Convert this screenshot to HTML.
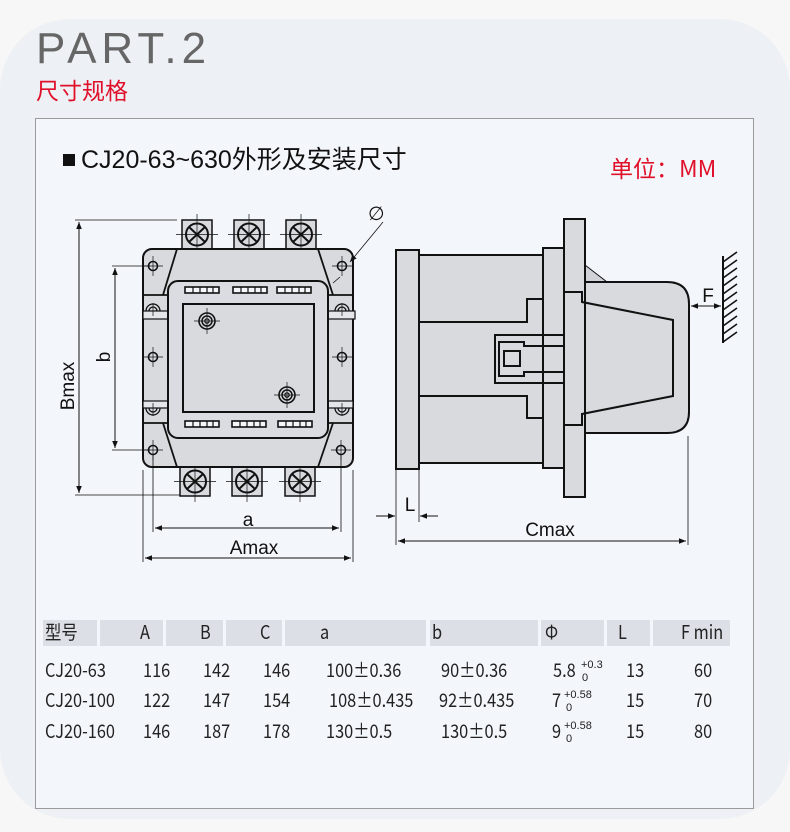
<!DOCTYPE html>
<html><head><meta charset="utf-8"><style>
html,body{margin:0;padding:0;}
body{width:790px;height:832px;background:#f7f7f7;position:relative;overflow:hidden;font-family:"Liberation Sans","Noto Sans CJK SC",sans-serif;}
.bg{position:absolute;left:0;top:19px;width:790px;height:800px;background:#edf0f5;border-radius:70px;}
.panel{position:absolute;left:35px;top:118px;width:717px;height:689px;background:#f3f6fb;border:1px solid #9a9a9a;}
.t{position:absolute;white-space:nowrap;}
.tb{font-family:"Noto Sans CJK SC","Liberation Sans",sans-serif;font-size:19px;line-height:22px;color:#222;position:absolute;white-space:nowrap;transform:scaleX(0.86);transform-origin:left top;}
.hc{position:absolute;top:620px;height:26px;background:#dcdfe5;}
</style></head><body>
<div class="bg"></div>
<div class="t" style="left:36px;top:24px;font-size:44px;color:#666;letter-spacing:5px;font-weight:300;">PART.2</div>
<div class="t" style="left:36px;top:72px;font-size:23px;color:#e0102a;font-family:'Noto Sans CJK SC',sans-serif;">尺寸规格</div>
<div class="panel"></div>
<div class="t" style="left:63px;top:140px;font-size:25px;color:#111;font-family:'Liberation Sans','Noto Sans CJK SC',sans-serif;"><span style="display:inline-block;width:12px;height:12px;background:#111;margin-right:6px;vertical-align:2px;"></span>CJ20-63~630外形及安装尺寸</div>
<div class="t" style="left:610px;top:150px;font-size:23px;color:#e0102a;font-family:'Noto Sans CJK SC',sans-serif;">单位：MM</div>

<svg style="position:absolute;left:0;top:0" width="790" height="832" viewBox="0 0 790 832">
<defs>
<marker id="ar" viewBox="0 0 10 10" refX="10" refY="5" markerWidth="9" markerHeight="7" orient="auto-start-reverse" markerUnits="userSpaceOnUse"><path d="M0,1 L10,5 L0,9 z" fill="#111"/></marker>
<g id="term"><rect x="0" y="0" width="30" height="29" fill="#d8dade" stroke="#111" stroke-width="1.5"/><circle cx="15" cy="14.5" r="11" fill="none" stroke="#111" stroke-width="2"/><path d="M7,7 L23,22 M23,7 L7,22" stroke="#111" stroke-width="2"/><path d="M-6,14.5 H36 M15,-6 V35" stroke="#111" stroke-width="0.7"/></g>
<g id="hole"><circle r="4.5" fill="none" stroke="#111" stroke-width="1.6"/><path d="M-10,0 H10 M0,-10 V10" stroke="#111" stroke-width="0.7"/></g>
<g id="scr"><circle r="8" fill="none" stroke="#111" stroke-width="1.6"/><circle r="5" fill="none" stroke="#111" stroke-width="1.5"/><circle r="2.2" fill="none" stroke="#111" stroke-width="1.2"/><path d="M-13,0 H13 M0,-13 V13" stroke="#111" stroke-width="0.7"/></g>
<g id="slot"><rect x="0" y="0" width="34" height="6" fill="#f3f6fb" stroke="#111" stroke-width="1.6"/><path d="M8,0V6 M15,0V6 M22,0V6 M28,0V6" stroke="#111" stroke-width="1.2"/></g>
</defs>
<use href="#term" x="182" y="220"/><use href="#term" x="234" y="220"/><use href="#term" x="286" y="220"/>
<use href="#term" x="180" y="467"/><use href="#term" x="232" y="467"/><use href="#term" x="285" y="467"/>
<rect x="143" y="249" width="210" height="218" rx="9" fill="#d8dade" stroke="#111" stroke-width="2"/>
<path d="M177,249 L163,295 M318,249 L333,295 M163,423 L177,467 M333,423 L318,467" stroke="#111" stroke-width="1.8" fill="none"/>
<path d="M143,295 H168 M143,423 H168 M328,295 H353 M328,423 H353" stroke="#111" stroke-width="1.8"/>
<rect x="143" y="311" width="25" height="8" fill="#e4e6ea" stroke="#111" stroke-width="1.2"/>
<rect x="328" y="311" width="27" height="8" fill="#e4e6ea" stroke="#111" stroke-width="1.2"/>
<rect x="143" y="401" width="25" height="7" fill="#e4e6ea" stroke="#111" stroke-width="1.2"/>
<rect x="328" y="401" width="25" height="7" fill="#e4e6ea" stroke="#111" stroke-width="1.2"/>
<path d="M146,311 A7,7 0 0 1 160,311 M149,311 A4,4 0 0 1 157,311 M146,408 A7,7 0 0 0 160,408 M149,408 A4,4 0 0 0 157,408" fill="none" stroke="#111" stroke-width="1.3"/>
<path d="M335,311 A7,7 0 0 1 349,311 M338,311 A4,4 0 0 1 346,311 M335,408 A7,7 0 0 0 349,408 M338,408 A4,4 0 0 0 346,408" fill="none" stroke="#111" stroke-width="1.3"/>
<path d="M153,303V316 M342,303V316 M153,403V416 M342,403V416" stroke="#111" stroke-width="0.7"/>
<rect x="168" y="281" width="160" height="157" rx="10" fill="#dadce1" stroke="#111" stroke-width="2"/>
<rect x="183" y="304" width="131" height="108" fill="#d8dade" stroke="#111" stroke-width="2"/>
<use href="#slot" x="185" y="287"/><use href="#slot" x="233" y="287"/><use href="#slot" x="277" y="287"/>
<use href="#slot" x="185" y="421"/><use href="#slot" x="232" y="421"/><use href="#slot" x="278" y="421"/>
<use href="#hole" x="153" y="266"/><use href="#hole" x="342" y="266"/><use href="#hole" x="153" y="357"/><use href="#hole" x="342" y="357"/><use href="#hole" x="153" y="450"/><use href="#hole" x="341" y="450"/>
<use href="#scr" x="207" y="321"/><use href="#scr" x="287" y="395"/>
<path d="M75,220 H177 M75,495 H180 M112,266 H150 M112,450 H150 M143,470 V562 M353,470 V562 M153,455 V532 M341,455 V532" stroke="#111" stroke-width="0.8"/>
<line x1="79" y1="222" x2="79" y2="493" stroke="#111" stroke-width="1" marker-start="url(#ar)" marker-end="url(#ar)"/>
<line x1="115" y1="268" x2="115" y2="448" stroke="#111" stroke-width="1" marker-start="url(#ar)" marker-end="url(#ar)"/>
<line x1="155" y1="528" x2="339" y2="528" stroke="#111" stroke-width="1" marker-start="url(#ar)" marker-end="url(#ar)"/>
<line x1="145" y1="558" x2="351" y2="558" stroke="#111" stroke-width="1" marker-start="url(#ar)" marker-end="url(#ar)"/>
<text x="74" y="386" font-size="19" font-family="Liberation Sans" fill="#111" text-anchor="middle" transform="rotate(-90 74 386)">Bmax</text>
<text x="110" y="357" font-size="19" font-family="Liberation Sans" fill="#111" text-anchor="middle" transform="rotate(-90 110 357)">b</text>
<text x="248" y="526" font-size="19" font-family="Liberation Sans" fill="#111" text-anchor="middle">a</text>
<text x="254" y="554" font-size="19" font-family="Liberation Sans" fill="#111" text-anchor="middle">Amax</text>
<text x="368" y="220" font-size="19" font-family="DejaVu Sans" fill="#111">∅</text>
<line x1="383" y1="222" x2="350" y2="262" stroke="#111" stroke-width="0.8" marker-end="url(#ar)"/>
<line x1="340" y1="277" x2="333" y2="283" stroke="#111" stroke-width="0.8"/>
<path d="M585,265 L607,282 L585,282 Z M585,433 L607,416 L585,416 Z" fill="#d0d2d7" stroke="#111" stroke-width="1"/>
<path d="M585,282 H667 Q689,282 689,304 V412 Q689,433 667,433 H585 Z" fill="#d8dade" stroke="#111" stroke-width="2"/>
<rect x="419" y="255" width="124" height="208" fill="#d8dade" stroke="#111" stroke-width="2"/>
<path d="M419,322 H527 V299 H543 M419,396 H527 V418 H543" fill="none" stroke="#111" stroke-width="2"/>
<rect x="396" y="250" width="23" height="219" fill="#d8dade" stroke="#111" stroke-width="2"/>
<rect x="543" y="248" width="21" height="220" fill="#d8dade" stroke="#111" stroke-width="2"/>
<rect x="564" y="219" width="21" height="278" fill="#d8dade" stroke="#111" stroke-width="2"/>
<path d="M564,292 H582 V302 L673,320 V396 L582,414 V425 H564" fill="none" stroke="#111" stroke-width="2"/>
<path d="M564,335 H495 V383 H564 M564,346 H524 V342 H499 V376 H524 V372 H564" fill="none" stroke="#111" stroke-width="2"/>
<rect x="504" y="351" width="16" height="15" fill="none" stroke="#111" stroke-width="2"/>
<line x1="723" y1="256" x2="723" y2="343" stroke="#111" stroke-width="2"/>
<path d="M723,262 l14,-10 M723,270 l14,-10 M723,278 l14,-10 M723,286 l14,-10 M723,294 l14,-10 M723,302 l14,-10 M723,310 l14,-10 M723,318 l14,-10 M723,326 l14,-10 M723,334 l14,-10 M723,342 l14,-10" stroke="#111" stroke-width="1.6"/>
<line x1="691" y1="306" x2="721" y2="306" stroke="#111" stroke-width="1" marker-start="url(#ar)" marker-end="url(#ar)"/>
<text x="708" y="302" font-size="19" font-family="Liberation Sans" fill="#111" text-anchor="middle">F</text>
<path d="M396,470 V545 M419,470 V522 M688,436 V545" stroke="#111" stroke-width="0.8"/>
<line x1="376" y1="516" x2="395" y2="516" stroke="#111" stroke-width="1" marker-end="url(#ar)"/>
<line x1="438" y1="516" x2="420" y2="516" stroke="#111" stroke-width="1" marker-end="url(#ar)"/>
<text x="410" y="511" font-size="19" font-family="Liberation Sans" fill="#111" text-anchor="middle">L</text>
<line x1="398" y1="541" x2="686" y2="541" stroke="#111" stroke-width="1" marker-start="url(#ar)" marker-end="url(#ar)"/>
<text x="550" y="536" font-size="19" font-family="Liberation Sans" fill="#111" text-anchor="middle">Cmax</text>
</svg>

<div class="hc" style="left:43px;width:54px"></div>
<div class="hc" style="left:100px;width:63px"></div>
<div class="hc" style="left:166px;width:57px"></div>
<div class="hc" style="left:226px;width:56px"></div>
<div class="hc" style="left:285px;width:141px"></div>
<div class="hc" style="left:430px;width:108px"></div>
<div class="hc" style="left:541px;width:63px"></div>
<div class="hc" style="left:607px;width:43px"></div>
<div class="hc" style="left:653px;width:77px"></div>
<div class="tb" style="left:45px;top:621px">型号</div>
<div class="tb" style="left:140px;top:621px">A</div>
<div class="tb" style="left:200px;top:621px">B</div>
<div class="tb" style="left:260px;top:621px">C</div>
<div class="tb" style="left:320px;top:621px">a</div>
<div class="tb" style="left:432px;top:621px">b</div>
<div class="tb" style="left:545px;top:621px">Φ</div>
<div class="tb" style="left:618px;top:621px">L</div>
<div class="tb" style="left:681px;top:621px">F min</div>

<div class="tb" style="left:45px;top:659px">CJ20-63</div>
<div class="tb" style="left:143px;top:659px">116</div>
<div class="tb" style="left:203px;top:659px">142</div>
<div class="tb" style="left:263px;top:659px">146</div>
<div class="tb" style="left:326px;top:659px">100±0.36</div>
<div class="tb" style="left:441px;top:659px">90±0.36</div>
<div class="tb" style="left:553px;top:659px">5.8</div>
<div class="t" style="left:581px;top:659px;font-size:11px;color:#222">+0.3</div>
<div class="t" style="left:582px;top:672px;font-size:11px;color:#222">0</div>
<div class="tb" style="left:626px;top:659px">13</div>
<div class="tb" style="left:694px;top:659px">60</div>

<div class="tb" style="left:45px;top:689px">CJ20-100</div>
<div class="tb" style="left:143px;top:689px">122</div>
<div class="tb" style="left:203px;top:689px">147</div>
<div class="tb" style="left:263px;top:689px">154</div>
<div class="tb" style="left:329px;top:689px">108±0.435</div>
<div class="tb" style="left:439px;top:689px">92±0.435</div>
<div class="tb" style="left:552px;top:689px">7</div>
<div class="t" style="left:564px;top:689px;font-size:11px;color:#222">+0.58</div>
<div class="t" style="left:566px;top:702px;font-size:11px;color:#222">0</div>
<div class="tb" style="left:626px;top:689px">15</div>
<div class="tb" style="left:694px;top:689px">70</div>

<div class="tb" style="left:45px;top:720px">CJ20-160</div>
<div class="tb" style="left:143px;top:720px">146</div>
<div class="tb" style="left:203px;top:720px">187</div>
<div class="tb" style="left:263px;top:720px">178</div>
<div class="tb" style="left:326px;top:720px">130±0.5</div>
<div class="tb" style="left:441px;top:720px">130±0.5</div>
<div class="tb" style="left:552px;top:720px">9</div>
<div class="t" style="left:564px;top:720px;font-size:11px;color:#222">+0.58</div>
<div class="t" style="left:566px;top:733px;font-size:11px;color:#222">0</div>
<div class="tb" style="left:626px;top:720px">15</div>
<div class="tb" style="left:694px;top:720px">80</div>
</body></html>
